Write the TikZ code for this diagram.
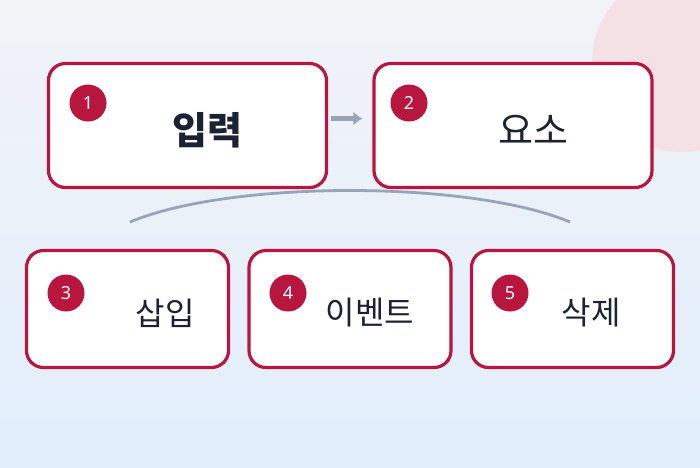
\documentclass[tikz,border=0pt]{standalone}
\usepackage{fontspec}
\usetikzlibrary{arrows.meta}
\newfontfamily\kr{Noto Sans CJK KR}
\setmainfont{Noto Sans}
\definecolor{crim}{HTML}{B8153F}
\definecolor{bgtop}{HTML}{F1F3F7}
\definecolor{bgbot}{HTML}{E1EEFB}
\definecolor{pinkc}{HTML}{F3E1E5}
\definecolor{linec}{HTML}{98A5B8}
\definecolor{txt}{HTML}{1A2233}
\begin{document}
\begin{tikzpicture}[x=1pt,y=-1pt,
  box/.style={draw=crim,line width=3.2pt,fill=white,rounded corners=17pt},
  num/.style={circle,fill=crim,minimum size=37pt,inner sep=0pt,text=white,font=\fontsize{18}{18}\selectfont}]
\useasboundingbox (0,0) rectangle (700,467);
\shade[top color=bgtop,bottom color=bgbot] (0,0) rectangle (700,467);
\begin{scope}
\clip (0,0) rectangle (700,467);
\fill[pinkc] (682,62) circle (90);
\end{scope}
\draw[linec,line width=2.8pt] (130,222) .. controls (230,180) and (470,180) .. (570,222);
\node[box,minimum width=278pt,minimum height=124pt] (b1) at (187.5,125.5) {};
\node[box,minimum width=278pt,minimum height=124pt] (b2) at (513,125.5) {};
\node[box,minimum width=202pt,minimum height=117pt] (b3) at (127.5,309) {};
\node[box,minimum width=202pt,minimum height=117pt] (b4) at (350,309) {};
\node[box,minimum width=202pt,minimum height=117pt] (b5) at (572.5,309) {};
\draw[linec,line width=4.5pt,-{Latex[length=9pt,width=14pt]}] ([xshift=3pt,yshift=7pt]b1.east) -- ([xshift=-10pt,yshift=7pt]b2.west);
\node[text=txt,font=\kr\bfseries\fontsize{38}{38}\selectfont] (t1) at (207,130) {입력};
\node[text=txt,font=\kr\fontsize{38}{38}\selectfont] (t2) at (533,130) {요소};
\node[text=txt,font=\kr\fontsize{32}{32}\selectfont] (t3) at (165,313) {삽입};
\node[text=txt,font=\kr\fontsize{32}{32}\selectfont] (t4) at (370,313) {이벤트};
\node[text=txt,font=\kr\fontsize{32}{32}\selectfont] (t5) at (591,313) {삭제};
\node[num] (n1) at (88,103) {1};
\node[num] (n2) at (409,103) {2};
\node[num] (n3) at (66,293) {3};
\node[num] (n4) at (288,293) {4};
\node[num] (n5) at (510,293) {5};
\end{tikzpicture}
\end{document}
